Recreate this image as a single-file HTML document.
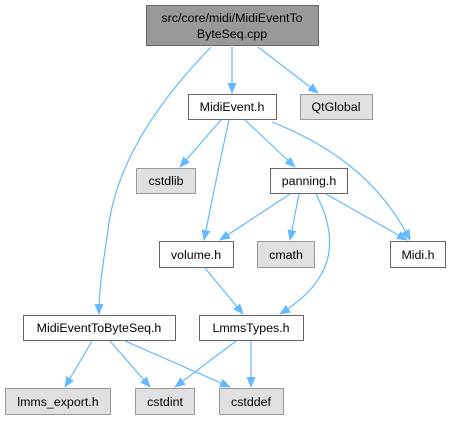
<!DOCTYPE html>
<html><head><style>body{margin:0;background:#fff}</style></head><body>
<svg width="451" height="420" viewBox="0 0 451 420" xmlns="http://www.w3.org/2000/svg" font-family="Liberation Sans, sans-serif" font-size="12.4">
<defs><marker id="a" markerWidth="11" markerHeight="9" refX="10" refY="4.5" orient="auto" markerUnits="userSpaceOnUse"><path d="M0,0 L11,4.5 L0,9 Z" fill="#63b8ff"/></marker></defs>
<g fill="none" stroke="#63b8ff" stroke-width="1.2" marker-end="url(#a)">
<path d="M211,47 C150,110 115,170 108,230 C102,270 99,290 99,314"/>
<path d="M232,47 L232,93"/>
<path d="M258,47 L318,93"/>
<path d="M221,120 L180,167"/>
<path d="M245,120 L295,167"/>
<path d="M229,120 C220,160 210,210 204,240"/>
<path d="M272,122 C330,145 380,180 410,240"/>
<path d="M290,194 L220,240"/>
<path d="M299,194 L290,240"/>
<path d="M326,194 L407,240"/>
<path d="M316,194 C340,240 335,280 280,314"/>
<path d="M205,268 L243,314"/>
<path d="M92,341 L65,387"/>
<path d="M110,341 L150,387"/>
<path d="M125,341 L230,387"/>
<path d="M236,341 L175,387"/>
<path d="M251,341 L251,387"/>
</g>
<g stroke-width="1">
<rect x="146.5" y="5.5" width="172" height="40" fill="#999" stroke="#666"/>
<rect x="188.5" y="94.5" width="88" height="25" fill="#fff" stroke="#666"/>
<rect x="300.5" y="94.5" width="72" height="25" fill="#e0e0e0" stroke="#999"/>
<rect x="136.5" y="168.5" width="59" height="25" fill="#e0e0e0" stroke="#999"/>
<rect x="270.5" y="168.5" width="77" height="25" fill="#fff" stroke="#666"/>
<rect x="159.5" y="241.5" width="74" height="26" fill="#fff" stroke="#666"/>
<rect x="257.5" y="241.5" width="57" height="26" fill="#e0e0e0" stroke="#999"/>
<rect x="390.5" y="241.5" width="55" height="26" fill="#fff" stroke="#666"/>
<rect x="23.5" y="315.5" width="152" height="25" fill="#fff" stroke="#666"/>
<rect x="199.5" y="315.5" width="104" height="25" fill="#fff" stroke="#666"/>
<rect x="5.5" y="388.5" width="105" height="26" fill="#e0e0e0" stroke="#999"/>
<rect x="135.5" y="388.5" width="59" height="26" fill="#e0e0e0" stroke="#999"/>
<rect x="219.5" y="388.5" width="64" height="26" fill="#e0e0e0" stroke="#999"/>
</g>
<g text-anchor="middle" fill="#000">
<text x="232" y="22">src/core/midi/MidiEventTo</text>
<text x="232" y="38">ByteSeq.cpp</text>
<text x="232" y="111">MidiEvent.h</text>
<text x="336" y="111">QtGlobal</text>
<text x="166" y="185">cstdlib</text>
<text x="309" y="185">panning.h</text>
<text x="196" y="259">volume.h</text>
<text x="286" y="259">cmath</text>
<text x="418" y="259">Midi.h</text>
<text x="99" y="332">MidiEventToByteSeq.h</text>
<text x="251" y="332">LmmsTypes.h</text>
<text x="58" y="406">lmms_export.h</text>
<text x="165" y="406">cstdint</text>
<text x="251" y="406">cstddef</text>
</g>
</svg>
</body></html>
